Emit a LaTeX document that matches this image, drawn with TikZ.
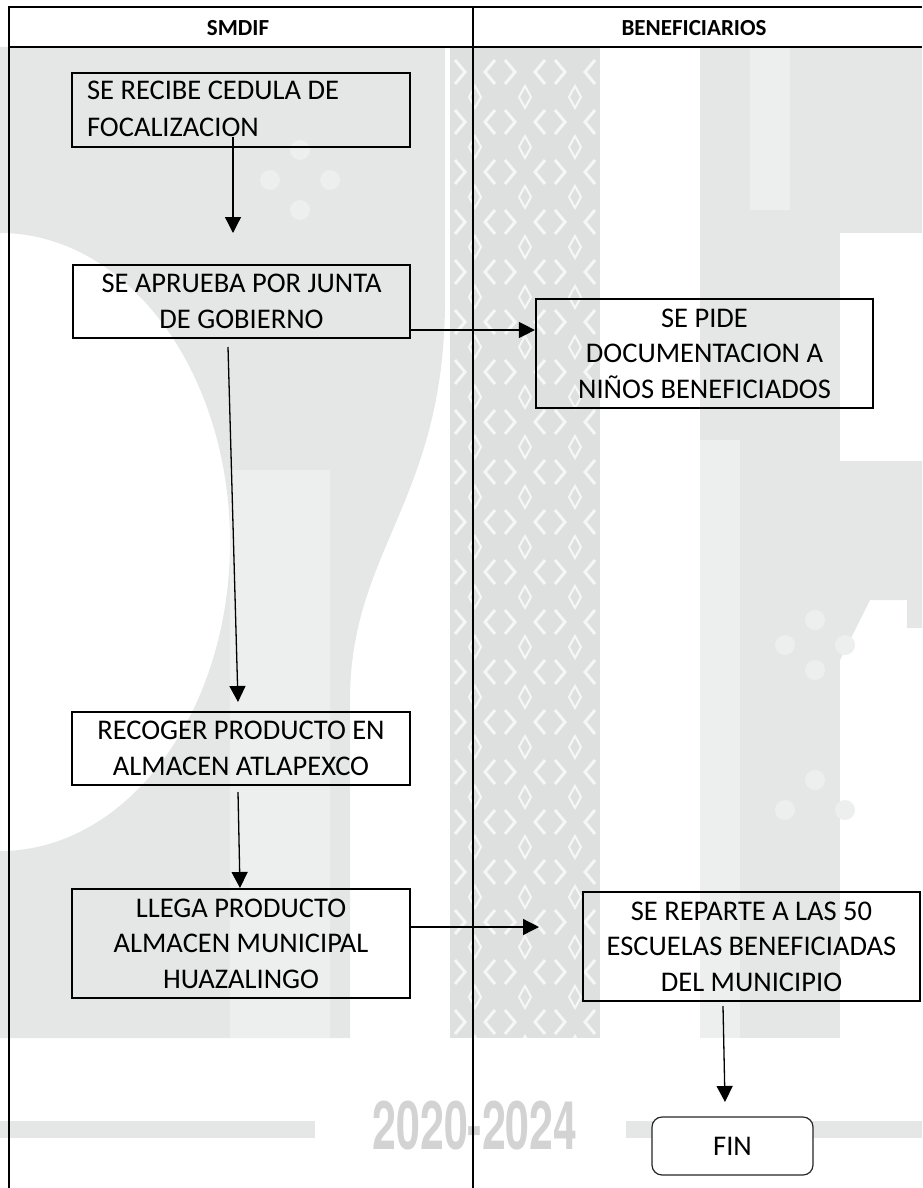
\documentclass[tikz,border=0pt]{standalone}
\usepackage{fontspec}
\setmainfont{Carlito}
\newfontfamily\yearfont{TeX Gyre Heros}
\usetikzlibrary{arrows.meta}
\definecolor{wm}{RGB}{229,230,230}
\definecolor{wmlight}{RGB}{237,238,238}
\definecolor{wmband}{RGB}{222,223,223}
\definecolor{yearc}{RGB}{211,211,211}
\begin{document}
\begin{tikzpicture}[x=1pt,y=-1pt,
  stepbox/.style={draw=black,line width=2.2pt,inner sep=0pt,align=center,
    font=\fontsize{28.5}{35.5}\selectfont},
  steptext/.style={inner sep=0pt,align=left,font=\fontsize{28.5}{36.5}\selectfont},
  finbox/.style={draw=black!85,line width=1.2pt,fill=white,rounded corners=10pt,
    inner sep=0pt,font=\fontsize{28.5}{35.5}\selectfont},
  head/.style={font=\bfseries\fontsize{23}{28}\selectfont},
  frame/.style={line width=2pt,black},
  arr/.style={line width=1.3pt,black,-{Triangle[length=16pt,width=16pt]}}]
\useasboundingbox (0,0) rectangle (922,1188);
% ---------- watermark ----------
\begin{scope}
\clip (0,0) rectangle (922,1188);
% D shape
\fill[wm,even odd rule] (0,47) -- (445,47) -- (445,300)
   .. controls (445,500) and (350,550) .. (350,700) -- (350,1038) -- (0,1038) -- cycle
   (0,542) ellipse [x radius=230, y radius=309];
\fill[wmlight] (230,470) rectangle (330,1038);
\foreach \p in {(300,150),(330,180),(270,180),(300,210),(290,620),(320,650),(260,650)}{
  \fill[wmlight] \p circle (10);
}
% patterned band
\fill[wmband] (450,47) rectangle (600,1038);
\foreach \i in {0,1,2}{
  \foreach \j in {0,...,19}{
    \pgfmathsetmacro{\cx}{475+50*\i}
    \pgfmathsetmacro{\cy}{72+50*\j}
    \draw[white,line width=3pt,opacity=.75]
      (\cx-20,\cy-12) -- (\cx-10,\cy) -- (\cx-20,\cy+12)
      (\cx+20,\cy-12) -- (\cx+10,\cy) -- (\cx+20,\cy+12);
    \draw[white,line width=2pt,opacity=.75]
      (\cx,\cy+14) -- (\cx+6,\cy+25) -- (\cx,\cy+36) -- (\cx-6,\cy+25) -- cycle;
  }
}
% F shape
\fill[wm] (700,47) rectangle (922,233);
\fill[wm] (700,233) rectangle (840,1038);
\fill[wmlight] (750,47) rectangle (790,210);
\fill[wmlight] (700,440) rectangle (740,1038);
\fill[wm] (840,461) -- (922,461) -- (922,628) -- (907,628) -- (907,600)
   -- (870,600) -- (840,660) -- cycle;
\foreach \p in {(815,620),(845,645),(785,645),(815,670),(815,780),(845,810),(785,810)}{
  \fill[wmlight] \p circle (10);
}
% bars and year
\fill[wm] (0,1121) rectangle (315,1138);
\fill[wm] (626,1121) rectangle (922,1138);
\node[text=yearc,font=\yearfont\bfseries\fontsize{67}{67}\selectfont,xscale=0.64,
      inner sep=0pt] (year) at (475,1126) {2020-2024};
\end{scope}
% ---------- table frame ----------
\coordinate (tl) at (9,7);
\coordinate (tr) at (922,7);
\coordinate (hl) at (9,47);
\coordinate (hr) at (922,47);
\coordinate (bl) at (9,1188);
\coordinate (dt) at (473,7);
\coordinate (db) at (473,1188);
\draw[frame] (tr) -- (tl) -- (bl);
\draw[frame] (hl) -- (hr);
\draw[frame] (dt) -- (db);
\node[head] (h1) at (238,28) {SMDIF};
\node[head] (h2) at (694,28) {BENEFICIARIOS};
% ---------- steps ----------
\node[stepbox,minimum width=338pt,minimum height=74pt] (b1) at (241,110) {};
\node[steptext,anchor=west] (b1t) at ([xshift=16pt,yshift=1pt]b1.west)
  {SE RECIBE CEDULA DE\\FOCALIZACION};
\node[stepbox,minimum width=337pt,minimum height=73pt] (b2) at (241.5,301.5)
  {SE APRUEBA POR JUNTA\\DE GOBIERNO};
\node[stepbox,minimum width=337pt,minimum height=109pt] (b3) at (704.5,353.5)
  {SE PIDE\\DOCUMENTACION A\\NIÑOS BENEFICIADOS};
\node[stepbox,minimum width=338pt,minimum height=73pt] (b4) at (241,748.5)
  {RECOGER PRODUCTO EN\\ALMACEN ATLAPEXCO};
\node[stepbox,minimum width=338pt,minimum height=109pt] (b5) at (241,943.5)
  {LLEGA PRODUCTO\\ALMACEN MUNICIPAL\\HUAZALINGO};
\node[stepbox,minimum width=337pt,minimum height=109pt] (b6) at (751.5,946.5)
  {SE REPARTE A LAS 50\\ESCUELAS BENEFICIADAS\\DEL MUNICIPIO};
\node[finbox,minimum width=161pt,minimum height=58pt] (fin) at (732.5,1146) {FIN};
% ---------- connectors ----------
\coordinate (a1s) at (233,137);
\coordinate (a1e) at (233,233);
\draw[arr] (a1s) -- (a1e);
\coordinate (a2s) at (410,330);
\draw[arr] (a2s) -- (a2s -| b3.west);
\coordinate (a3s) at (228,347);
\coordinate (a3e) at (238,702);
\draw[arr] (a3s) -- (a3e);
\coordinate (a4s) at (238,792);
\coordinate (a4e) at (240,888);
\draw[arr] (a4s) -- (a4e);
\coordinate (a5s) at (410,927);
\coordinate (a5e) at (539,927);
\draw[arr] (a5s) -- (a5e);
\coordinate (a6s) at (723,1006);
\coordinate (a6e) at (725,1102);
\draw[arr] (a6s) -- (a6e);
\end{tikzpicture}
\end{document}
